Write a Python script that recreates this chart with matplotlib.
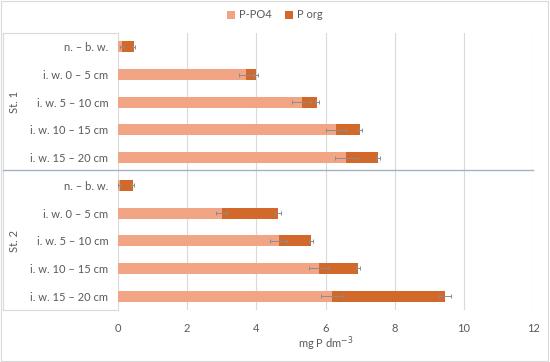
import matplotlib
matplotlib.use("Agg")
import matplotlib.pyplot as plt
from matplotlib.lines import Line2D
from matplotlib.patches import Rectangle
import numpy as np

plt.rcParams['font.family'] = ['Lato', 'DejaVu Sans']

categories = ["n. \u2013 b. w.", "i. w. 0 \u2013 5 cm", "i. w. 5 \u2013 10 cm",
              "i. w. 10 \u2013 15 cm", "i. w. 15 \u2013 20 cm"]
groups = ["St. 1", "St. 2"]

po4_st1 = [0.12, 3.70, 5.31, 6.30, 6.60]
org_st1 = [0.33, 0.30, 0.45, 0.70, 0.92]
po4_err_st1 = [0.05, 0.20, 0.28, 0.30, 0.33]
tot_err_st1 = [0.05, 0.06, 0.05, 0.06, 0.06]

po4_st2 = [0.05, 3.00, 4.65, 5.81, 6.19]
org_st2 = [0.38, 1.62, 0.93, 1.13, 3.27]
po4_err_st2 = [0.04, 0.16, 0.25, 0.29, 0.33]
tot_err_st2 = [0.04, 0.08, 0.05, 0.05, 0.17]

c_po4 = "#F2A585"
c_org = "#D2692A"
txt = "#595959"
fs = 8

fig = plt.figure(figsize=(5.5, 3.62), dpi=100)
ax = fig.add_axes([118/550, 1-310/362, (533-118)/550, (310-33)/362])

po4 = po4_st1 + po4_st2
org = org_st1 + org_st2
po4_err = po4_err_st1 + po4_err_st2
tot_err = tot_err_st1 + tot_err_st2
labels = categories + categories
n = len(labels)
y = np.arange(n)
tot = [a + b for a, b in zip(po4, org)]

ax.barh(y, po4, height=0.4, color=c_po4, label="P-PO4", zorder=2)
ax.barh(y, org, left=po4, height=0.4, color=c_org, label="P org", zorder=2)
ekw = dict(fmt='none', ecolor="#8C8C8C", elinewidth=0.7, capsize=1.5, capthick=0.7, zorder=3)
ax.errorbar(po4, y, xerr=po4_err, **ekw)
ax.errorbar(tot, y, xerr=tot_err, **ekw)

ax.set_ylim(n - 0.5, -0.5)
ax.set_xlim(0, 12)
ax.set_xticks(np.arange(0, 13, 2))
ax.set_yticks(y)
ax.set_yticklabels(labels)
ax.tick_params(axis='both', length=0, colors=txt, labelsize=fs)
ax.tick_params(axis='y', pad=7)
ax.tick_params(axis='x', pad=9)
ax.grid(axis='x', color="#D9D9D9", linewidth=0.8, zorder=0)
for s in ax.spines.values():
    s.set_visible(False)
ax.set_xlabel("mg P dm$^{-3}$", color=txt, fontsize=fs, labelpad=1)

# group labels and category box lines
fig.text(15/550, 1-102/362, groups[0], rotation=90, ha='center', va='center', color=txt, fontsize=fs)
fig.text(15/550, 1-241/362, groups[1], rotation=90, ha='center', va='center', color=txt, fontsize=fs)
lc = "#D9D9D9"
fig.add_artist(Line2D([3/550, 118/550], [1-33/362, 1-33/362], color=lc, lw=0.8))
fig.add_artist(Line2D([3/550, 118/550], [1-310/362, 1-310/362], color=lc, lw=0.8))
fig.add_artist(Line2D([3/550, 3/550], [1-33/362, 1-310/362], color=lc, lw=0.8))
fig.add_artist(Line2D([3/550, 533/550], [1-170/362, 1-170/362], color="#A3B1C4", lw=1.0))

# figure border
fig.add_artist(Rectangle((0.002, 0.003), 0.995, 0.993, transform=fig.transFigure,
                         fill=False, edgecolor="#D9D9D9", lw=0.8))

leg = fig.legend(loc='center', bbox_to_anchor=(0.5, 1-15/362), ncol=2, frameon=False,
                 fontsize=fs, handlelength=0.7, handleheight=0.7, columnspacing=1.2,
                 handletextpad=0.4)
for t in leg.get_texts():
    t.set_color(txt)

fig.savefig("out.png", dpi=100)
